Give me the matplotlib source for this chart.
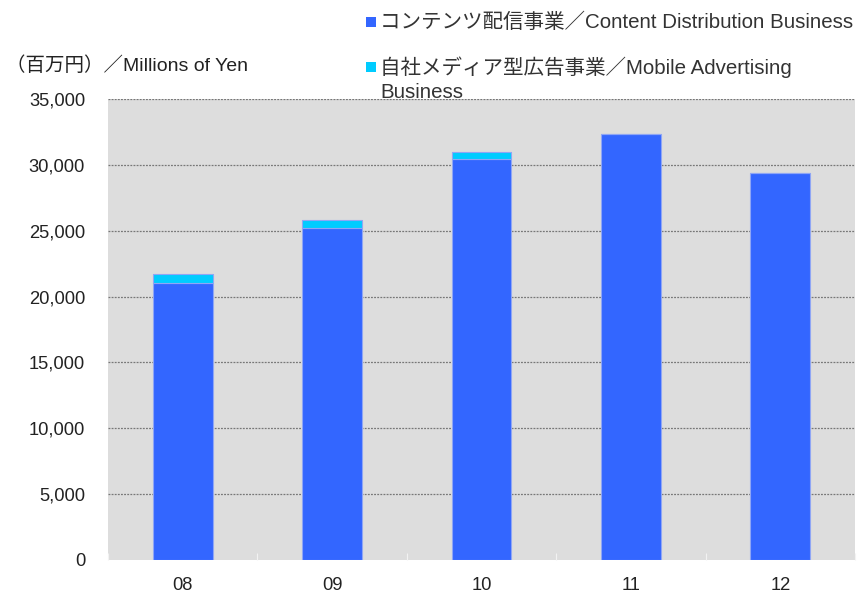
import matplotlib
matplotlib.use("Agg")
import matplotlib.pyplot as plt
from matplotlib.patches import Rectangle
import numpy as np

plt.rcParams['font.family'] = ['Liberation Sans', 'Noto Sans CJK JP', 'DejaVu Sans']

categories = ['08', '09', '10', '11', '12']
content = [21000, 25230, 30460, 32350, 29390]
mobile_ad = [750, 600, 530, 0, 0]
series_labels = ['コンテンツ配信事業／Content Distribution Business',
                 '自社メディア型広告事業／Mobile Advertising\nBusiness']
y_ticks = [0, 5000, 10000, 15000, 20000, 25000, 30000, 35000]
y_title = '（百万円）／Millions of Yen'

c_blue = '#3366FF'
c_cyan = '#00CCFF'

fig = plt.figure(figsize=(8.65, 5.93), dpi=100)
ax = fig.add_axes([108/865, 1-560/593, (855-108)/865, (560-99)/593])
ax.set_facecolor('#DDDDDD')

x = np.arange(len(categories))
ax.bar(x, content, width=0.4, color=c_blue, edgecolor='#8FA6F5', linewidth=0.8, zorder=3)
ax.bar(x, mobile_ad, bottom=content, width=0.4, color=c_cyan, edgecolor='#8FA6F5',
       linewidth=0.8, zorder=3)

ax.set_xlim(-0.5, len(categories) - 0.5)
ax.set_ylim(0, 35000)
ax.set_yticks(y_ticks)
ax.set_yticklabels([f'{v:,}' for v in y_ticks])
ax.set_xticks(x)
ax.set_xticklabels(categories)
ax.set_xticks(np.arange(len(categories) + 1) - 0.5, minor=True)

for v in y_ticks[1:]:
    ax.axhline(v, color='#777777', linestyle=(0, (1.5, 1)), linewidth=0.9, zorder=2)

for s in ax.spines.values():
    s.set_visible(False)

ax.tick_params(axis='y', length=0, pad=16.5, labelsize=13.2, labelcolor='#222222')
ax.tick_params(axis='x', which='major', length=0, pad=12, labelsize=13.2, labelcolor='#222222')
ax.tick_params(axis='x', which='minor', direction='in', length=5, color='#F2F2F2', width=0.8)

fig.text(6/865, 1-66/593, y_title, fontsize=14, color='#222222', va='center', ha='left')

# legend
leg_items = [(series_labels[0], c_blue, 22), (series_labels[1], c_cyan, 67)]
for label, col, ypx in leg_items:
    fig.patches.append(Rectangle((366/865, 1-(ypx+5)/593), 10/865, 10/593,
                                 transform=fig.transFigure, facecolor=col,
                                 edgecolor='none'))
    if '\n' in label:
        fig.text(380/865, 1-(ypx-11)/593, label, fontsize=14.8, color='#333333',
                 va='top', ha='left', linespacing=1.38)
    else:
        fig.text(380/865, 1-ypx/593, label, fontsize=14.8, color='#333333',
                 va='center', ha='left')

fig.savefig('out.png', dpi=100)
